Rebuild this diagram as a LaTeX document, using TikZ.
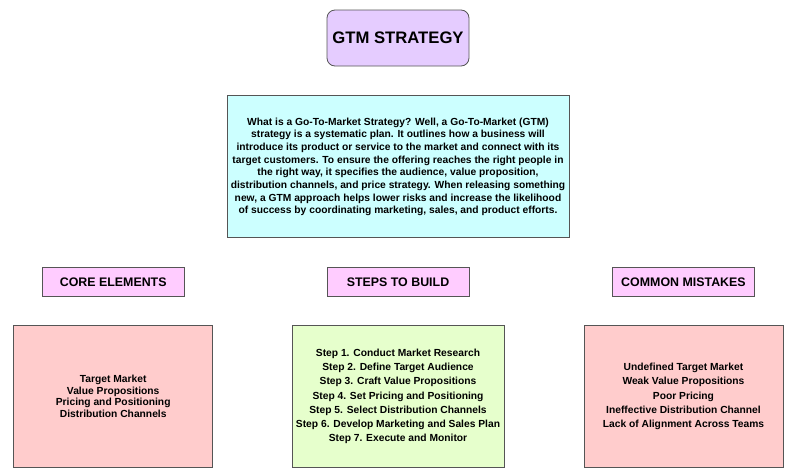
\documentclass[tikz,border=0pt]{standalone}
\usepackage{fontspec}
\setmainfont{Liberation Sans}
\usetikzlibrary{positioning}
\definecolor{linec}{HTML}{555555}
\definecolor{titlec}{HTML}{E5CCFF}
\definecolor{descc}{HTML}{CCFFFF}
\definecolor{headc}{HTML}{FFCCFF}
\definecolor{redc}{HTML}{FFCCCC}
\definecolor{greenc}{HTML}{E6FFCC}

\begin{document}
\begin{tikzpicture}[
    x=0.75pt, y=-0.75pt,
    box/.style={draw=linec, line width=0.6pt, align=center, inner sep=0pt},
    head/.style={box, fill=headc, minimum width=106.5pt, minimum height=21.75pt,
      font=\fontsize{9.3}{10}\selectfont\bfseries},
    list/.style={box, minimum height=106.5pt, font=\fontsize{7.7}{10.7}\selectfont\bfseries}]

  \useasboundingbox (0,0) rectangle (800,475);

  % title and description
  \node[box, fill=titlec, rounded corners=6pt, minimum width=106.5pt, minimum height=42pt,
    font=\fontsize{12.5}{14}\selectfont\bfseries] (title) at (398,38) {GTM STRATEGY};
  \node[box, fill=descc, minimum width=256.5pt, minimum height=106.5pt,
    font=\fontsize{7.7}{9.5}\selectfont\bfseries, below=21.75pt of title] (desc)
    {What is a Go-To-Market Strategy? Well, a Go-To-Market (GTM)\\
     strategy is a systematic plan. It outlines how a business will\\
     introduce its product or service to the market and connect with its\\
     target customers. To ensure the offering reaches the right people in\\
     the right way, it specifies the audience, value proposition,\\
     distribution channels, and price strategy. When releasing something\\
     new, a GTM approach helps lower risks and increase the likelihood\\
     of success by coordinating marketing, sales, and product efforts.};

  % column headers
  \node[head, below=21.75pt of desc] (hsteps) {STEPS TO BUILD};
  \node[head, left=106.5pt of hsteps] (hcore) {CORE ELEMENTS};
  \node[head, right=107pt of hsteps] (hmist) {COMMON MISTAKES};

  % column contents
  \node[list, fill=redc, minimum width=149.25pt, below=21pt of hcore,
    font=\fontsize{7.7}{8.8}\selectfont\bfseries] (core)
    {Target Market\\ Value Propositions\\ Pricing and Positioning\\ Distribution Channels};
  \node[list, fill=greenc, minimum width=159pt, below=21pt of hsteps] (steps)
    {Step 1. Conduct Market Research\\ Step 2. Define Target Audience\\
     Step 3. Craft Value Propositions\\ Step 4. Set Pricing and Positioning\\
     Step 5. Select Distribution Channels\\ Step 6. Develop Marketing and Sales Plan\\
     Step 7. Execute and Monitor};
  \node[list, fill=redc, minimum width=149.25pt, below=21pt of hmist] (mist)
    {Undefined Target Market\\ Weak Value Propositions\\ Poor Pricing\\
     Ineffective Distribution Channel\\ Lack of Alignment Across Teams};
\end{tikzpicture}
\end{document}
